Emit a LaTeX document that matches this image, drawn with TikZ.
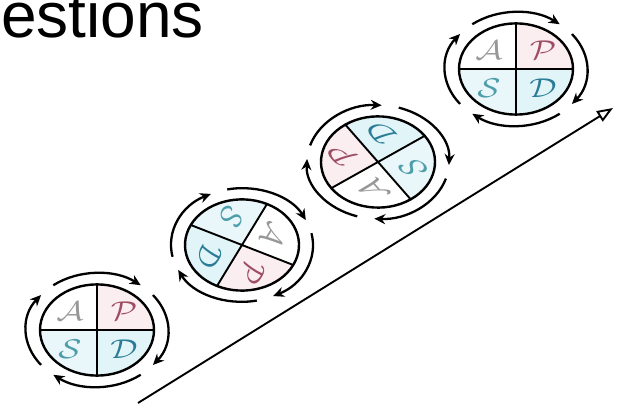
\RequirePackage{fix-cm}
\documentclass[tikz,border=0pt]{standalone}
\usepackage{fontspec}
\newfontfamily\titlefont{Liberation Sans}
\usepackage{tikz}
\usetikzlibrary{arrows.meta}
\usepackage{xcolor}
\definecolor{pfill}{HTML}{FBEEF1}
\definecolor{dfill}{HTML}{E1F5F9}
\definecolor{sfill}{HTML}{EAF7FA}
\definecolor{acol}{HTML}{989898}
\definecolor{pcol}{HTML}{9E4E62}
\definecolor{scol}{HTML}{4E9DAA}
\definecolor{dcol}{HTML}{2A7C96}

\begin{document}
\begin{tikzpicture}[x=1pt, y=1pt,
            ring/.style={line width=2.3pt, -{Stealth[length=11pt, width=10pt]}},
            letter/.style={font=\fontsize{34}{34}\selectfont, transform shape, inner sep=0pt},
            axis/.style={line width=1.9pt, -{Triangle[open, length=16pt, width=12pt, line width=1.9pt]}}
          ]
          \useasboundingbox (0,0) rectangle (626,404);
          \node[anchor=base west, inner sep=0pt, font=\titlefont\fontsize{64}{64}\selectfont] (title) at (1,366) {estions};
          % one cycle per step, centre / turn / index
          \foreach \cx/\cy/\rot/\i in {97/74/0/1, 242/159/-116/2, 378/242/125/3, 516/335/0/4}{
            \begin{scope}[shift={(\cx,\cy)}, yscale=0.8, rotate=\rot]
              \fill[pfill] (0,0) -- (0:57) arc (0:90:57) -- cycle;
              \fill[sfill] (0,0) -- (180:57) arc (180:270:57) -- cycle;
              \fill[dfill] (0,0) -- (270:57) arc (270:360:57) -- cycle;
              \draw[line width=2.4pt] (0,0) circle (57);
              \draw[line width=1.9pt] (-57,0) -- (57,0) (0,-57) -- (0,57);
              \node[letter, text=acol] (A\i) at (-27,24) {$\mathcal{A}$};
              \node[letter, text=pcol] (P\i) at (27,24) {$\mathcal{P}$};
              \node[letter, text=scol] (S\i) at (-27,-24) {$\mathcal{S}$};
              \node[letter, text=dcol] (D\i) at (27,-24) {$\mathcal{D}$};
              \foreach \a in {0,90,180,270}
                \draw[ring] ({128-\a}:71) arc ({128-\a}:{52-\a}:71);
            \end{scope}
          }
          \coordinate (start) at (138,1);
          \coordinate (tip) at (613,296);
          \draw[axis] (start) -- (tip);
        \end{tikzpicture}
\end{document}
